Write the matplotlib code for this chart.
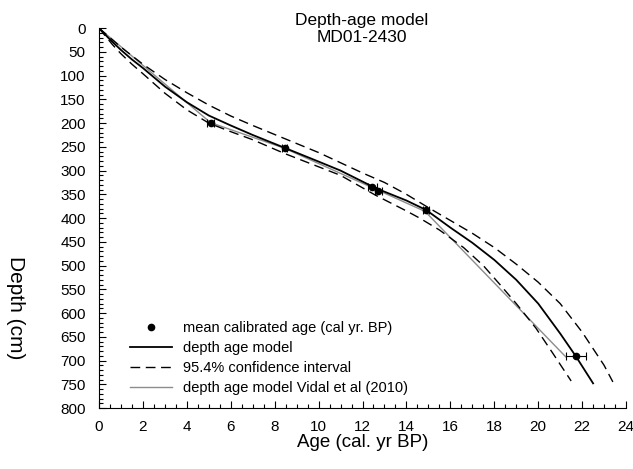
import numpy as np
import matplotlib
matplotlib.use('Agg')
import matplotlib.pyplot as plt
from matplotlib.ticker import MultipleLocator
from matplotlib.lines import Line2D

plt.rcParams['font.family'] = ['Liberation Sans', 'DejaVu Sans']

# mean calibrated ages (cal yr BP, in kyr) and depths
pt_age = [5.08, 8.45, 12.44, 12.72, 14.9, 21.72]
pt_depth = [199, 252, 334, 344, 383, 691]
pt_err = [0.15, 0.11, 0.2, 0.15, 0.15, 0.47]

# depth age model
model_age = [0, 0.5, 1.0, 1.5, 2.0, 3.0, 4.0, 5.0, 6.0, 7.0, 8.45, 10.0, 11.0,
             12.6, 14.0, 14.9, 16.0, 17.0, 18.0, 19.0, 20.0, 21.0, 21.7, 22.5]
model_depth = [0, 24, 46, 66, 84, 123, 156, 184, 205, 225, 252, 281, 300,
               337, 363, 383, 420, 452, 488, 530, 580, 643, 690, 748]

# 95.4% confidence interval
upper_age = [0, 1.0, 2.0, 3.0, 4.0, 5.0, 6.0, 7.0, 8.0, 10.0, 12.0, 13.0, 14.0,
             15.0, 16.0, 17.0, 18.0, 19.0, 20.0, 21.0, 22.0, 23.0, 23.4]
upper_depth = [0, 40, 76, 108, 136, 162, 185, 205, 224, 262, 305, 325, 350,
               378, 405, 432, 462, 497, 535, 580, 640, 710, 745]
lower_age = [0, 0.6, 1.0, 1.5, 2.0, 3.0, 4.0, 5.0, 6.0, 7.0, 8.45, 10.0, 11.0,
             12.6, 14.0, 14.6, 15.5, 16.6, 17.5, 18.26, 19.0, 19.9, 20.67, 21.5]
lower_depth = [0, 34, 54, 76, 96, 137, 172, 200, 218, 235, 264, 292, 310,
               352, 385, 400, 425, 462, 500, 540, 580, 632, 685, 743]

# Vidal et al (2010)
vidal_age = [0, 5.08, 8.45, 12.5, 14.85, 21.25]
vidal_depth = [0, 199, 253, 337, 386, 692]

fig = plt.figure(figsize=(6.33, 4.69), dpi=100)
ax = fig.add_axes([0.1564, 0.130, 0.8326, 0.810])

ax.plot(vidal_age, vidal_depth, color='#8c8c8c', lw=1.0, zorder=2)
ax.plot(upper_age, upper_depth, color='black', lw=1.0, dashes=(7, 4), zorder=3)
ax.plot(lower_age, lower_depth, color='black', lw=1.0, dashes=(7, 4), zorder=3)
ax.plot(model_age, model_depth, color='black', lw=1.3, zorder=4)
ax.errorbar(pt_age, pt_depth, xerr=pt_err, fmt='o', color='black',
            ms=4.5, elinewidth=0.8, capsize=3, capthick=0.8, zorder=5)

ax.set_xlim(0, 24)
ax.set_ylim(800, 0)
ax.xaxis.set_major_locator(MultipleLocator(2))
ax.xaxis.set_minor_locator(MultipleLocator(0.5))
ax.yaxis.set_major_locator(MultipleLocator(50))
ax.yaxis.set_minor_locator(MultipleLocator(10))
ax.tick_params(which='both', direction='in', labelsize=11, width=0.8)
ax.tick_params(which='major', length=5)
ax.tick_params(which='minor', length=3)
ax.tick_params(axis='x', which='major', pad=8.5)
ax.tick_params(axis='y', which='major', pad=9.5)
ax.spines['top'].set_visible(False)
ax.spines['right'].set_visible(False)

ax.set_xlabel('Age (cal. yr BP)', fontsize=13.5, labelpad=0)
fig.text(0.024, 0.343, 'Depth (cm)', rotation=270, fontsize=15,
         ha='center', va='center')
fig.text(0.572, 0.939, 'Depth-age model\nMD01-2430', fontsize=12.5,
         ha='center', va='center', linespacing=1.15)

handles = [
    Line2D([], [], ls='none', marker='o', color='black', ms=4.5),
    Line2D([], [], color='black', lw=1.3),
    Line2D([], [], color='black', lw=1.0, dashes=(7, 4)),
    Line2D([], [], color='#8c8c8c', lw=1.0),
]
labels = ['mean calibrated age (cal yr. BP)', 'depth age model',
          '95.4% confidence interval', 'depth age model Vidal et al (2010)']
ax.legend(handles, labels, loc='upper left', bbox_to_anchor=(0.059, 0.23),
          frameon=False, fontsize=10.5, handlelength=2.9, handletextpad=0.7,
          labelspacing=0.42, borderaxespad=0, borderpad=0)

fig.savefig('out.png', dpi=100)
